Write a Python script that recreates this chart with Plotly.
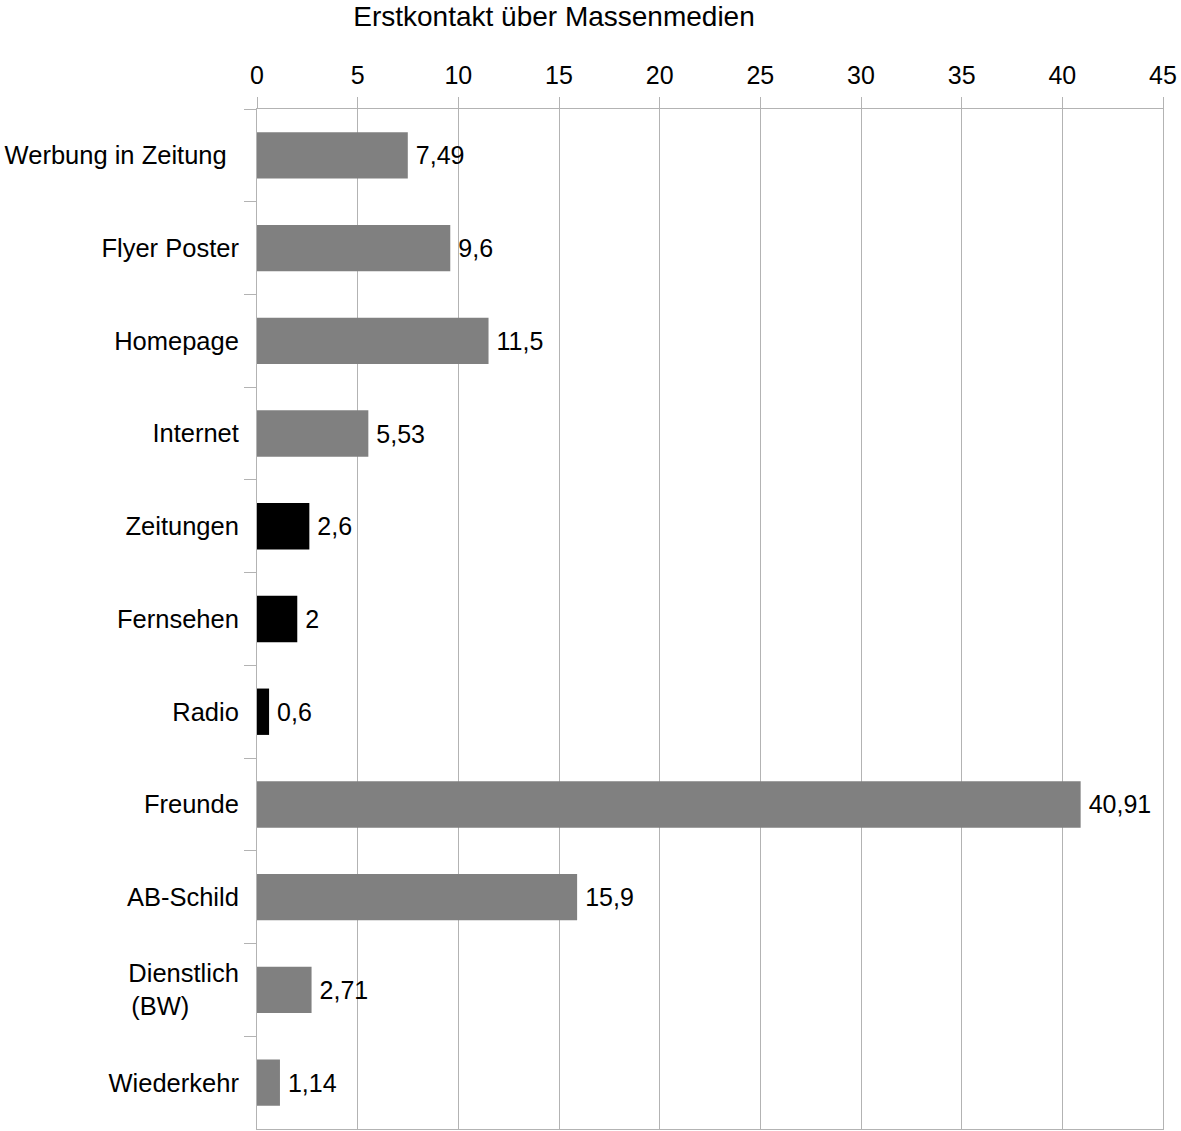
import plotly.graph_objects as go

# Survey: first contact via mass media (percent)
categories = [
    "Werbung in Zeitung\u00a0\u2009",
    "Flyer Poster",
    "Homepage",
    "Internet",
    "Zeitungen",
    "Fernsehen",
    "Radio",
    "Freunde",
    "AB-Schild",
    "Dienstlich<br>(BW)" + "\u00a0" * 7,
    "Wiederkehr",
]
values = [7.49, 9.6, 11.5, 5.53, 2.6, 2, 0.6, 40.91, 15.9, 2.71, 1.14]
highlighted = ["Zeitungen", "Fernsehen", "Radio"]

GRAY_BAR = "#808080"
BLACK_BAR = "#000000"
LINE = "#b3b3b3"
FONT = "Liberation Sans, Arial, sans-serif"

bar_colors = [BLACK_BAR if c in highlighted else GRAY_BAR for c in categories]
# value labels with a decimal comma, set off slightly from the bar end
labels = ["\u2009" + f"{v:g}".replace(".", ",") for v in values]

fig = go.Figure(
    go.Bar(
        x=values,
        y=categories,
        orientation="h",
        marker=dict(color=bar_colors, line=dict(width=0)),
        text=labels,
        textposition="outside",
        textfont=dict(family=FONT, size=25, color="#000000"),
        constraintext="none",
        cliponaxis=False,
        hoverinfo="skip",
    )
)

fig.update_layout(
    width=1181,
    height=1131,
    margin=dict(l=257, r=18, t=109, b=2),
    paper_bgcolor="white",
    plot_bgcolor="white",
    font=dict(family=FONT, size=25, color="#000000"),
    bargap=0.5,
    showlegend=False,
    title=dict(
        text="Erstkontakt über Massenmedien",
        font=dict(family=FONT, size=28, color="#000000"),
        xref="container",
        yref="container",
        x=554 / 1181,
        xanchor="center",
        y=1 - 16 / 1131,
        yanchor="middle",
    ),
)

fig.update_xaxes(
    side="top",
    range=[0, 45],
    dtick=5,
    tick0=0,
    showgrid=True,
    gridcolor=LINE,
    gridwidth=1,
    zeroline=False,
    showline=True,
    linecolor=LINE,
    linewidth=1,
    mirror=True,
    ticks="outside",
    ticklen=11,
    tickcolor=LINE,
    tickwidth=1,
    ticklabelstandoff=3,
    tickfont=dict(family=FONT, size=25, color="#000000"),
    fixedrange=True,
)

fig.update_yaxes(
    type="category",
    autorange="reversed",
    tickson="boundaries",
    showgrid=False,
    showline=True,
    linecolor=LINE,
    linewidth=1,
    mirror=True,
    ticks="outside",
    ticklen=12,
    tickcolor=LINE,
    tickwidth=1,
    ticklabelstandoff=12,
    tickfont=dict(family=FONT, size=25.5, color="#000000"),
    fixedrange=True,
)

fig.write_html("out.html")
